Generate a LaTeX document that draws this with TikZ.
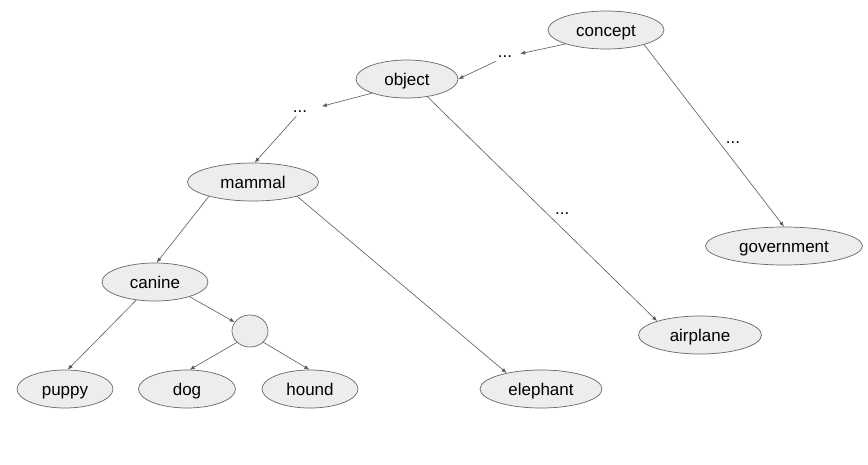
\documentclass[tikz,border=0pt]{standalone}
\usepackage{fontspec}
\setmainfont{Liberation Sans}
\usetikzlibrary{shapes.geometric,arrows.meta}
\begin{document}
\begin{tikzpicture}[x=1pt,y=-1pt,
  every node/.style={font=\fontsize{17}{20}\selectfont},
  ell/.style={ellipse,draw=black!60,fill=black!7,line width=0.7pt,inner sep=0pt,minimum height=38pt,text height=13pt,text depth=1pt},
  dots/.style={inner sep=3pt},
  edge/.style={draw=black!65,line width=0.6pt},
  arr/.style={edge,-{Latex[length=5pt,width=4pt]}}]
\useasboundingbox (0,0) rectangle (868,464);
\node[ell,minimum width=116pt] (concept) at (606,30) {concept};
\node[ell,minimum width=102pt] (object) at (407,79) {object};
\node[ell,minimum width=131pt] (mammal) at (253,182) {mammal};
\node[ell,minimum width=106pt] (canine) at (155,282) {canine};
\node[ell,minimum width=36pt,minimum height=32pt,text height=0pt,text depth=0pt] (blank) at (250,331) {};
\node[ell,minimum width=96pt] (puppy) at (65,389) {puppy};
\node[ell,minimum width=97pt] (dog) at (187,389) {dog};
\node[ell,minimum width=96pt] (hound) at (310,389) {hound};
\node[ell,minimum width=122pt] (elephant) at (541,389) {elephant};
\node[ell,minimum width=123pt] (airplane) at (700,335) {airplane};
\node[ell,minimum width=157pt] (government) at (784,246) {government};
\node[dots] (d1) at (505,57) {...};
\node[dots] (d2) at (300,112) {...};
\draw[arr,shorten >=5pt] (concept.-161) -- (d1);
\draw[arr] (d1) -- (object.east);
\draw[arr,shorten >=12pt] (object.-158) -- (d2);
\draw[arr] (d2) -- (mammal.85);
\draw[arr] (mammal.198) -- (canine.85);
\draw[arr] (mammal.-18) -- (elephant.155);
\draw[arr] (canine.-23) -- (blank.150);
\draw[arr] (canine.-136) -- (puppy.82);
\draw[arr] (blank.-139) -- (dog.82);
\draw[arr] (blank.-40) -- (hound.92);
\draw[arr] (object.-41) -- node[pos=0.52,right=5pt,dots] (d3) {...} (airplane.162);
\draw[arr] (concept.-21) -- node[pos=0.54,right=3pt,dots] (d4) {...} (government.90);
\end{tikzpicture}
\end{document}
